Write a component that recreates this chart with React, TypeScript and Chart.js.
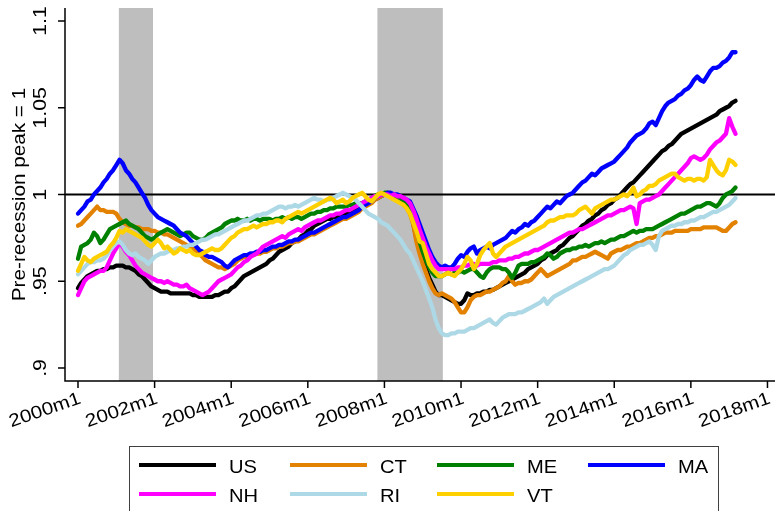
import React, { useEffect, useRef } from 'react';
import { Chart, registerables } from 'chart.js';

Chart.register(...registerables);

// Monthly values, 2000m1 .. 2017m3 (index 0 = 2000m1)
const SERIES_NAMES = ['US', 'CT', 'ME', 'MA', 'NH', 'RI', 'VT'];
const SERIES_COLORS = ['#000000', '#E38100', '#008000', '#0000FF', '#FF00FF', '#ADD8E6', '#FFD000'];

const US = [
  .946, .949, .951, .953, .954, .955, .956, .956, .957, .957, .958, .958,
  .959, .959, .959, .958, .958, .957, .956, .954, .953, .951, .949, .947,
  .946, .945, .944, .944, .944, .943, .943, .943, .943, .943, .943, .943,
  .942, .942, .941, .941, .941, .941, .941, .942, .942, .943, .944, .944,
  .946, .947, .949, .951, .953, .954, .955, .956, .957, .958, .959, .960,
  .962, .963, .965, .967, .968, .969, .970, .972, .973, .974, .976, .977,
  .979, .980, .982, .983, .984, .985, .986, .986, .987, .987, .988, .988,
  .989, .990, .991, .992, .993, .993, .994, .995, .996, .997, .998, .999,
  1.000, 1.000, .999, .999, .998, .997, .995, .993, .990, .984, .975, .968,
  .962, .957, .952, .948, .944, .942, .942, .941, .940, .939, .938, .937,
  .937, .939, .943, .942, .942, .943, .943, .944, .944, .945, .945, .946,
  .947, .948, .949, .950, .951, .952, .953, .954, .955, .957, .958, .959,
  .960, .962, .963, .965, .966, .967, .968, .970, .971, .973, .975, .976,
  .978, .980, .982, .983, .985, .986, .988, .989, .991, .992, .994, .995,
  .997, .998, 1.000, 1.002, 1.004, 1.006, 1.007, 1.009, 1.011, 1.013, 1.015, 1.017,
  1.019, 1.021, 1.023, 1.025, 1.026, 1.028, 1.029, 1.031, 1.033, 1.035, 1.036, 1.037,
  1.038, 1.039, 1.040, 1.041, 1.042, 1.043, 1.044, 1.045, 1.046, 1.048, 1.049, 1.050,
  1.051, 1.053, 1.054,
];

const CT = [
  .982, .983, .985, .987, .989, .991, .993, .991, .991, .990, .990, .990,
  .989, .986, .984, .983, .982, .982, .981, .981, .980, .980, .980, .979,
  .979, .978, .978, .977, .977, .976, .975, .974, .973, .972, .971, .970,
  .969, .967, .966, .964, .962, .961, .960, .959, .958, .958, .957, .958,
  .959, .960, .962, .963, .964, .964, .965, .965, .966, .966, .967, .967,
  .968, .969, .969, .970, .970, .971, .972, .972, .973, .973, .974, .975,
  .976, .977, .977, .978, .979, .980, .981, .982, .983, .984, .985, .986,
  .986, .987, .988, .989, .990, .992, .993, .994, .995, .997, .998, .999,
  1.000, 1.000, .999, .999, .998, .996, .994, .992, .989, .983, .973, .966,
  .960, .955, .950, .946, .943, .942, .943, .942, .941, .940, .938, .935,
  .932, .932, .935, .939, .941, .942, .942, .943, .944, .944, .945, .946,
  .947, .949, .950, .953, .950, .948, .949, .949, .950, .950, .951, .953,
  .955, .957, .955, .953, .954, .955, .956, .957, .958, .959, .960, .962,
  .962, .963, .964, .964, .965, .966, .967, .966, .965, .964, .963, .966,
  .967, .968, .968, .969, .970, .970, .971, .972, .972, .973, .974, .975,
  .975, .976, .976, .977, .978, .978, .978, .979, .979, .979, .979, .979,
  .980, .980, .980, .980, .981, .981, .981, .981, .981, .980, .979, .979,
  .981, .983, .984,
];

const ME = [
  .963, .970, .971, .972, .974, .978, .976, .972, .974, .977, .980, .981,
  .982, .983, .984, .985, .983, .982, .981, .980, .978, .976, .975, .974,
  .975, .977, .978, .979, .980, .979, .978, .977, .976, .977, .978, .978,
  .976, .975, .974, .974, .975, .977, .978, .979, .980, .981, .983, .984,
  .985, .985, .986, .985, .985, .986, .985, .986, .986, .985, .986, .986,
  .986, .985, .986, .986, .987, .986, .987, .986, .987, .987, .986, .987,
  .988, .989, .989, .990, .990, .991, .991, .992, .992, .993, .993, .993,
  .993, .994, .994, .995, .995, .995, .996, .997, .998, .999, 1.000, 1.000,
  1.001, 1.001, 1.000, .999, .998, .997, .996, .994, .992, .986, .980, .973,
  .967, .962, .958, .955, .953, .953, .953, .954, .955, .954, .955, .955,
  .956, .955, .956, .957, .957, .955, .953, .952, .955, .957, .958, .958,
  .958, .957, .957, .955, .952, .955, .959, .960, .960, .960, .961, .961,
  .962, .963, .964, .966, .965, .963, .964, .966, .967, .968, .968, .969,
  .969, .970, .970, .971, .970, .971, .972, .972, .973, .972, .973, .974,
  .974, .975, .976, .976, .977, .978, .979, .978, .979, .979, .980, .980,
  .980, .981, .982, .983, .984, .985, .986, .987, .988, .989, .989, .990,
  .991, .992, .993, .993, .994, .995, .995, .994, .993, .995, .998, 1.000,
  1.001, 1.002, 1.004,
];

const MA = [
  .989, .991, .993, .996, .997, 1.000, 1.002, 1.004, 1.007, 1.009, 1.012, 1.014,
  1.017, 1.020, 1.018, 1.014, 1.012, 1.009, 1.007, 1.004, 1.001, .998, .994, .991,
  .989, .987, .986, .985, .984, .983, .982, .980, .978, .977, .976, .974,
  .972, .970, .968, .967, .965, .964, .964, .963, .962, .961, .959, .958,
  .960, .962, .963, .964, .965, .965, .966, .966, .967, .967, .968, .968,
  .969, .970, .970, .971, .971, .972, .973, .973, .974, .974, .975, .976,
  .977, .978, .978, .979, .980, .981, .982, .983, .984, .985, .986, .987,
  .987, .988, .989, .990, .991, .993, .994, .995, .996, .998, .999, 1.000,
  1.000, 1.001, 1.001, 1.000, 1.000, .999, .998, .997, .996, .992, .988, .983,
  .978, .973, .968, .964, .961, .959, .958, .959, .958, .958, .960, .963,
  .965, .964, .967, .969, .970, .966, .968, .969, .970, .969, .971, .972,
  .973, .974, .975, .977, .979, .978, .980, .981, .983, .982, .984, .985,
  .987, .989, .991, .993, .992, .994, .996, .995, .997, .999, 1.000, 1.001,
  1.003, 1.005, 1.007, 1.008, 1.010, 1.012, 1.011, 1.013, 1.015, 1.016, 1.017, 1.018,
  1.019, 1.021, 1.023, 1.025, 1.027, 1.030, 1.032, 1.034, 1.035, 1.036, 1.038, 1.041,
  1.042, 1.040, 1.044, 1.048, 1.051, 1.053, 1.054, 1.055, 1.057, 1.058, 1.060, 1.061,
  1.063, 1.066, 1.068, 1.066, 1.065, 1.068, 1.071, 1.073, 1.073, 1.074, 1.076, 1.077,
  1.079, 1.082, 1.082,
];

const NH = [
  .942, .946, .950, .952, .953, .954, .955, .956, .956, .958, .962, .966,
  .969, .972, .970, .967, .965, .962, .959, .957, .955, .954, .953, .952,
  .951, .950, .950, .949, .950, .949, .948, .948, .947, .947, .948, .946,
  .945, .944, .943, .942, .943, .944, .946, .948, .950, .951, .952, .953,
  .954, .956, .958, .959, .961, .962, .964, .965, .966, .968, .970, .971,
  .972, .973, .974, .975, .976, .975, .977, .978, .979, .980, .979, .981,
  .982, .983, .984, .985, .985, .986, .987, .988, .988, .989, .989, .990,
  .991, .991, .992, .993, .994, .995, .996, .997, .998, .999, .999, 1.000,
  1.000, 1.000, .999, 1.000, .999, .999, .998, .997, .995, .991, .986, .980,
  .975, .970, .966, .962, .959, .957, .957, .957, .957, .957, .957, .958,
  .958, .959, .959, .960, .960, .959, .960, .960, .960, .960, .961, .961,
  .962, .962, .962, .963, .963, .964, .964, .965, .966, .966, .967, .968,
  .968, .969, .970, .971, .972, .973, .974, .975, .976, .977, .978, .978,
  .979, .980, .980, .981, .982, .983, .984, .985, .986, .987, .988, .988,
  .989, .990, .991, .991, .992, .993, .992, .983, .995, .996, .997, .997,
  .998, .999, 1.000, 1.002, 1.004, 1.006, 1.008, 1.010, 1.012, 1.014, 1.016, 1.018,
  1.021, 1.022, 1.021, 1.020, 1.021, 1.023, 1.026, 1.028, 1.030, 1.031, 1.033, 1.035,
  1.044, 1.039, 1.035,
];

const RI = [
  .954, .956, .958, .960, .961, .961, .962, .962, .963, .965, .968, .970,
  .972, .973, .971, .968, .966, .965, .966, .964, .963, .962, .960, .962,
  .964, .965, .966, .966, .967, .968, .968, .969, .969, .970, .970, .971,
  .971, .972, .973, .974, .974, .975, .976, .977, .977, .978, .979, .980,
  .981, .982, .983, .984, .985, .985, .986, .987, .988, .988, .989, .989,
  .990, .991, .992, .993, .993, .992, .993, .993, .994, .993, .994, .995,
  .996, .997, .998, .997, .997, .996, .997, .997, .998, .999, 1.000, 1.001,
  1.000, .999, .998, .997, .995, .993, .991, .989, .988, .987, .986, .984,
  .983, .982, .980, .978, .976, .974, .971, .968, .966, .962, .958, .954,
  .950, .945, .940, .935, .928, .923, .920, .919, .919, .920, .920, .921,
  .921, .921, .922, .923, .923, .924, .925, .926, .927, .928, .926, .925,
  .927, .929, .930, .931, .931, .931, .932, .932, .933, .934, .935, .936,
  .937, .938, .940, .937, .939, .941, .942, .943, .944, .945, .946, .947,
  .948, .949, .950, .951, .952, .953, .954, .955, .956, .957, .957, .958,
  .959, .961, .963, .965, .966, .968, .969, .970, .971, .971, .972, .973,
  .971, .968, .976, .979, .980, .981, .982, .982, .983, .983, .984, .984,
  .985, .985, .986, .987, .987, .988, .989, .990, .990, .991, .992, .993,
  .994, .996, .998,
];

const VT = [
  .956, .960, .964, .962, .961, .963, .964, .965, .966, .967, .970, .972,
  .975, .979, .978, .980, .979, .978, .977, .976, .975, .973, .971, .970,
  .972, .974, .972, .969, .970, .968, .966, .967, .969, .968, .967, .968,
  .966, .965, .965, .966, .967, .968, .969, .968, .968, .969, .971, .973,
  .975, .976, .978, .979, .980, .980, .981, .982, .981, .982, .983, .983,
  .984, .984, .985, .985, .984, .986, .987, .988, .989, .990, .989, .990,
  .991, .992, .993, .994, .995, .996, .997, .998, .997, .995, .996, .997,
  .995, .996, .998, .999, 1.000, 1.001, .999, .997, .996, .998, 1.000, 1.001,
  1.000, .999, .998, .997, .996, .995, .994, .992, .989, .984, .979, .973,
  .972, .966, .960, .957, .955, .953, .953, .954, .955, .954, .953, .955,
  .957, .960, .964, .962, .957, .960, .965, .968, .970, .972, .966, .964,
  .966, .968, .970, .971, .972, .973, .974, .975, .976, .977, .978, .979,
  .980, .981, .982, .984, .985, .985, .986, .987, .987, .988, .988, .988,
  .989, .991, .992, .993, .991, .989, .992, .993, .994, .995, .996, .997,
  .997, .998, .999, 1.000, .999, 1.001, 1.004, .999, 1.000, 1.002, 1.003, 1.005,
  1.005, 1.006, 1.008, 1.009, 1.010, 1.011, 1.012, 1.012, 1.010, 1.009, 1.008, 1.009,
  1.009, 1.008, 1.009, 1.009, 1.008, 1.010, 1.020, 1.017, 1.014, 1.012, 1.011, 1.014,
  1.020, 1.019, 1.017,
];

const SERIES_VALUES = [US, CT, ME, MA, NH, RI, VT];

// Axis ticks (x in months since 2000m1)
const X_TICK_VALUES = [0, 24, 48, 72, 96, 120, 144, 168, 192, 216];
const X_TICK_LABELS = ['2000m1', '2002m1', '2004m1', '2006m1', '2008m1', '2010m1', '2012m1', '2014m1', '2016m1', '2018m1'];
const Y_TICK_VALUES = [0.9, 0.95, 1, 1.05, 1.1];
const Y_TICK_LABELS = ['.9', '.95', '1', '1.05', '1.1'];
const Y_TITLE = 'Pre-recession peak = 1';

// Recession shading (months since 2000m1)
const RECESSION_START = [12.8, 93.8];
const RECESSION_END = [23.5, 114.3];
const REFERENCE_LINE = 1;

const FONT = '"Liberation Sans", Arial, Helvetica, sans-serif';

function drawText(
  ctx: CanvasRenderingContext2D,
  text: string,
  x: number,
  y: number,
  angleDeg: number,
  size: number,
  align: CanvasTextAlign,
  baseline: CanvasTextBaseline,
  stretch = 1.15,
) {
  ctx.save();
  ctx.translate(x, y);
  ctx.rotate((-angleDeg * Math.PI) / 180);
  ctx.scale(stretch, 1);
  ctx.font = `${size}px ${FONT}`;
  ctx.textAlign = align;
  ctx.textBaseline = baseline;
  ctx.fillStyle = '#000000';
  ctx.fillText(text, 0, 0);
  ctx.restore();
}

const stataPlugin = {
  id: 'stataDecor',
  beforeDatasetsDraw(chart: any) {
    const { ctx, chartArea, scales } = chart;
    const xs = scales.x;
    const ys = scales.y;
    ctx.save();
    ctx.fillStyle = '#BEBEBE';
    for (let k = 0; k < RECESSION_START.length; k++) {
      const x1 = xs.getPixelForValue(RECESSION_START[k]);
      const x2 = xs.getPixelForValue(RECESSION_END[k]);
      ctx.fillRect(x1, chartArea.top, x2 - x1, chartArea.bottom - chartArea.top);
    }
    const yRef = ys.getPixelForValue(REFERENCE_LINE);
    ctx.strokeStyle = '#000000';
    ctx.lineWidth = 2;
    ctx.beginPath();
    ctx.moveTo(chartArea.left, yRef);
    ctx.lineTo(chartArea.right, yRef);
    ctx.stroke();
    ctx.restore();
  },
  afterDraw(chart: any) {
    const { ctx, chartArea, scales } = chart;
    const xs = scales.x;
    const ys = scales.y;
    ctx.save();
    ctx.strokeStyle = '#000000';
    ctx.lineWidth = 1.5;
    // axes
    ctx.beginPath();
    ctx.moveTo(chartArea.left, chartArea.top);
    ctx.lineTo(chartArea.left, chartArea.bottom);
    ctx.lineTo(chartArea.right, chartArea.bottom);
    ctx.stroke();
    // y ticks
    Y_TICK_VALUES.forEach((v, k) => {
      const py = ys.getPixelForValue(v);
      ctx.beginPath();
      ctx.moveTo(chartArea.left, py);
      ctx.lineTo(chartArea.left - 7, py);
      ctx.stroke();
      drawText(ctx, Y_TICK_LABELS[k], 45.5, py, 90, 18.5, 'center', 'alphabetic');
    });
    // x ticks
    X_TICK_VALUES.forEach((v, k) => {
      const px = xs.getPixelForValue(v);
      ctx.beginPath();
      ctx.moveTo(px, chartArea.bottom);
      ctx.lineTo(px, chartArea.bottom + 7);
      ctx.stroke();
      drawText(ctx, X_TICK_LABELS[k], px + 4, 403, 19, 18, 'right', 'alphabetic');
    });
    // y title
    drawText(ctx, Y_TITLE, 24.5, (chartArea.top + chartArea.bottom) / 2, 90, 18, 'center', 'alphabetic');

    // legend
    ctx.strokeStyle = '#404040';
    ctx.lineWidth = 1;
    ctx.strokeRect(129.5, 446.5, 589, 80);
    const colX = [139, 290, 437, 588];
    const rowY = [465, 494];
    chart.data.datasets.forEach((ds: any, k: number) => {
      const cx = colX[k % 4];
      const cy = rowY[Math.floor(k / 4)];
      ctx.strokeStyle = ds.borderColor;
      ctx.lineWidth = 4;
      ctx.beginPath();
      ctx.moveTo(cx, cy);
      ctx.lineTo(cx + 77, cy);
      ctx.stroke();
      drawText(ctx, ds.label, cx + 90, cy + 7.5, 0, 17.5, 'left', 'alphabetic');
    });
    ctx.restore();
  },
};

export default function App() {
  const canvasRef = useRef<HTMLCanvasElement | null>(null);

  useEffect(() => {
    document.body.style.margin = '0';
    const canvas = canvasRef.current;
    if (!canvas) return;
    const datasets = SERIES_NAMES.map((name, k) => ({
      label: name,
      data: SERIES_VALUES[k].map((v, i) => ({ x: i, y: v })),
      borderColor: SERIES_COLORS[k],
      backgroundColor: SERIES_COLORS[k],
      borderWidth: 4.3,
      pointRadius: 0,
      tension: 0,
      fill: false,
      borderJoinStyle: 'round' as const,
      borderCapStyle: 'round' as const,
      order: SERIES_NAMES.length - k,
    }));
    const chart = new Chart(canvas, {
      type: 'line',
      data: { datasets },
      options: {
        animation: false,
        responsive: true,
        maintainAspectRatio: false,
        layout: { padding: { top: 8, right: 0, bottom: 0, left: 0 } },
        plugins: { legend: { display: false }, tooltip: { enabled: false } },
        scales: {
          x: {
            type: 'linear',
            min: -4.07,
            max: 218.36,
            grid: { display: false },
            border: { display: false },
            ticks: { display: false },
            afterFit: (scale: any) => {
              scale.height = 130;
            },
          },
          y: {
            type: 'linear',
            min: 0.8925,
            max: 1.1075,
            grid: { display: false },
            border: { display: false },
            ticks: { display: false },
            afterFit: (scale: any) => {
              scale.width = 65;
            },
          },
        },
      },
      plugins: [stataPlugin],
    });
    return () => chart.destroy();
  }, []);

  return (
    <div style={{ width: 775, height: 511, position: 'relative', background: '#ffffff' }}>
      <canvas ref={canvasRef} />
    </div>
  );
}
